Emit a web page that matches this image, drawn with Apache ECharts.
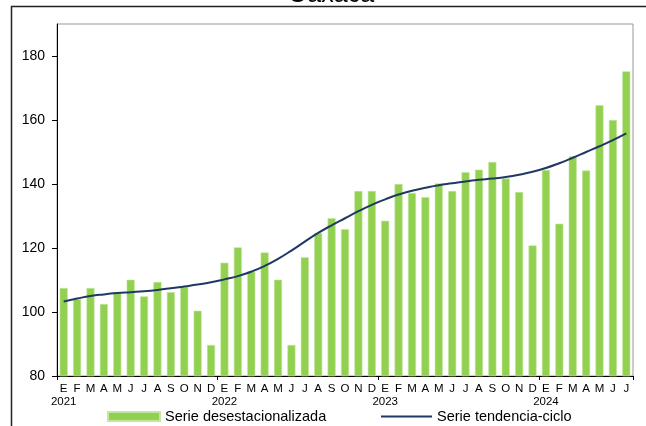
<!DOCTYPE html>
<html>
<head>
<meta charset="utf-8">
<script src="https://cdn.jsdelivr.net/npm/echarts@6/dist/echarts.min.js"></script>
<style>
  html, body { margin: 0; padding: 0; background: #fff; }
  #chart { width: 646px; height: 426px; }
</style>
</head>
<body>
<div id="chart"></div>
<script>
var MONTHS = ["E", "F", "M", "A", "M", "J", "J", "A", "S", "O", "N", "D"];
var YEARS = ["2021", "2022", "2023", "2024"];
var Y_TICKS = [80, 100, 120, 140, 160, 180];

// desestacionalizada (bars)
var seasonal = [
  107.5, 104.0, 107.5, 102.5, 106.0, 110.1, 104.9, 109.4, 106.2, 107.8, 100.4, 89.7,
  115.4, 120.2, 112.7, 118.6, 110.1, 89.7, 117.1, 124.7, 129.3, 125.9, 137.8, 137.8,
  128.5, 140.0, 137.2, 135.9, 140.2, 137.8, 143.7, 144.5, 146.9, 141.7, 137.5, 120.8,
  144.4, 127.6, 148.6, 144.2, 164.6, 160.0, 175.2
];

// tendencia-ciclo (line)
var trend = [
  103.3, 104.2, 105.0, 105.5, 105.9, 106.2, 106.5, 106.9, 107.4, 108.0, 108.6, 109.3,
  110.2, 111.2, 112.6, 114.4, 116.6, 119.2, 122.0, 124.7, 127.1, 129.3, 131.5, 133.5,
  135.2, 136.7, 137.9, 138.8, 139.6, 140.2, 140.8, 141.3, 141.7, 142.2, 142.9, 143.8,
  145.0, 146.5, 148.2, 150.0, 151.8, 153.7, 155.8
];

var categories = seasonal.map(function (v, i) {
  return MONTHS[i % 12];
});

var FONT = "'Liberation Sans', Arial, sans-serif";

var chart = echarts.init(document.getElementById("chart"));

chart.setOption({
  backgroundColor: "#fff",
  animation: false,
  textStyle: { fontFamily: FONT },
  graphic: [
    {
      type: "rect",
      shape: { x: 11.5, y: 6.5, width: 660, height: 440 },
      style: { fill: null, stroke: "#222", lineWidth: 1.5 },
      z: 10
    },
    {
      // title, mostly above the visible area
      type: "text",
      x: 331,
      y: -17.5,
      z: 20,
      style: {
        text: "Oaxaca",
        fontSize: 25,
        fontFamily: FONT,
        fill: "#000",
        align: "center",
        verticalAlign: "top"
      }
    }
  ],
  grid: {
    left: 57,
    right: 13,
    top: 24,
    bottom: 50,
    show: true,
    borderColor: "#999",
    borderWidth: 1
  },
  legend: [
    {
      data: ["Serie desestacionalizada"],
      left: 102,
      top: 404,
      icon: "rect",
      itemWidth: 52,
      itemHeight: 9,
      textStyle: { fontSize: 14.5, color: "#000", fontFamily: FONT }
    },
    {
      data: ["Serie tendencia-ciclo"],
      left: 376,
      top: 404,
      icon: "rect",
      itemWidth: 51,
      itemHeight: 2,
      textStyle: { fontSize: 14.5, color: "#000", fontFamily: FONT }
    }
  ],
  xAxis: {
    type: "category",
    data: categories,
    axisLine: { lineStyle: { color: "#000", width: 1 } },
    axisTick: {
      show: true,
      length: 4,
      interval: function (idx) { return idx % 12 === 0; },
      lineStyle: { color: "#000" }
    },
    axisLabel: {
      interval: 0,
      margin: 6,
      fontSize: 11.5,
      lineHeight: 13,
      color: "#000",
      formatter: function (val, idx) {
        if (idx % 12 === 0) return val + "\n" + YEARS[idx / 12];
        return val;
      }
    },
    splitLine: { show: false }
  },
  yAxis: {
    type: "value",
    min: 80,
    max: 190,
    interval: 20,
    axisLine: { show: true, lineStyle: { color: "#000", width: 1 } },
    axisTick: { show: true, length: 5, customValues: Y_TICKS, lineStyle: { color: "#000" } },
    axisLabel: { fontSize: 14, color: "#000", margin: 12, customValues: Y_TICKS },
    splitLine: { show: false }
  },
  series: [
    {
      name: "Serie desestacionalizada",
      type: "bar",
      data: seasonal,
      barCategoryGap: "40%",
      itemStyle: { color: "#92d050", borderColor: "#c4e6a2", borderWidth: 0.6 }
    },
    {
      name: "Serie tendencia-ciclo",
      type: "line",
      data: trend,
      smooth: true,
      symbol: "none",
      itemStyle: { color: "#1f3864" },
      lineStyle: { color: "#1f3864", width: 2 },
      z: 3
    }
  ]
});
</script>
</body>
</html>
